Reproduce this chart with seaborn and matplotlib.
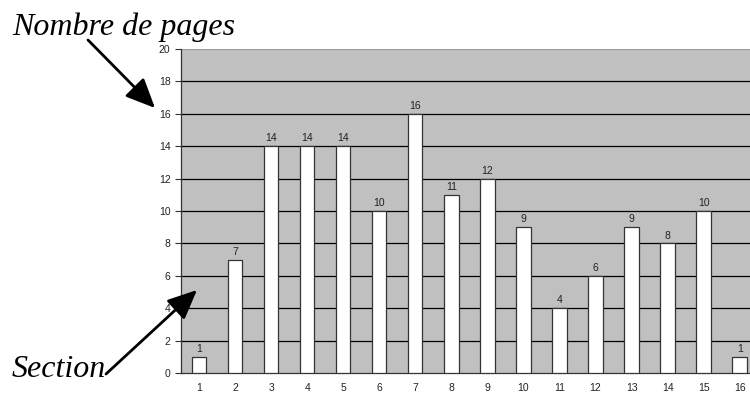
import matplotlib
matplotlib.use("Agg")
import matplotlib.pyplot as plt
import seaborn as sns
import pandas as pd
import numpy as np

sections = list(range(1, 17))
pages = [1, 7, 14, 14, 14, 10, 16, 11, 12, 9, 4, 6, 9, 8, 10, 1]
y_ticks = list(range(0, 21, 2))

df = pd.DataFrame({"section": [str(s) for s in sections], "pages": pages})

sns.set_style("white")
plt.rcParams["font.family"] = ["Liberation Sans", "DejaVu Sans"]

fig = plt.figure(figsize=(7.5, 3.98), dpi=100)
ax = fig.add_axes([0.2413, 0.0628, 0.769, 0.814])
ax.set_facecolor("#c0c0c0")

sns.barplot(data=df, x="section", y="pages", color="white", width=0.4,
            edgecolor="#333333", linewidth=0.9, saturation=1, ax=ax, zorder=3)

ax.set_ylim(0, 20)
ax.set_xlim(-0.5, len(sections) - 0.5)
ax.set_yticks(y_ticks)
ax.set_yticklabels([str(t) for t in y_ticks])
for t in y_ticks[1:-1]:
    ax.axhline(t, color="black", linewidth=0.9, zorder=1)

# tick marks between categories, labels at bar centres
ax.set_xticks(np.arange(-0.5, len(sections), 1.0))
ax.set_xticklabels([])
ax.set_xticks(np.arange(len(sections)), minor=True)
ax.set_xticklabels([str(s) for s in sections], minor=True)
ax.tick_params(axis="x", which="major", length=4, width=0.8, color="#333333", direction="out")
ax.tick_params(axis="x", which="minor", length=0, labelsize=7.5, pad=7, labelcolor="#222222")
ax.tick_params(axis="y", length=4, width=0.8, color="#333333", direction="out",
               labelsize=7.5, labelcolor="#222222", left=True)
ax.set_xlabel("")
ax.set_ylabel("")

for side in ["top", "right"]:
    ax.spines[side].set_visible(False)
ax.spines["left"].set_color("#333333")
ax.spines["left"].set_linewidth(0.9)
ax.spines["bottom"].set_color("#333333")
ax.spines["bottom"].set_linewidth(0.9)
ax.axhline(20, color="#9a9a9a", linewidth=0.8, zorder=1)

ax.bar_label(ax.containers[0], labels=[str(v) for v in pages], padding=2,
             fontsize=7.5, color="#222222")

# annotations
serif = ["Liberation Serif", "DejaVu Serif"]
fig.text(12 / 750, 1 - 35 / 398, "Nombre de pages", fontsize=23, style="italic",
         family=serif, color="black", ha="left", va="baseline")
fig.text(12 / 750, 1 - 377 / 398, "Section", fontsize=23, style="italic",
         family=serif, color="black", ha="left", va="baseline")

arrowprops = dict(arrowstyle="-|>,head_length=1.0,head_width=0.45", color="black",
                  linewidth=2, shrinkA=0, shrinkB=0)
fig.add_artist(matplotlib.patches.FancyArrowPatch(
    (88 / 750, 1 - 40 / 398), (155 / 750, 1 - 108 / 398),
    transform=fig.transFigure, mutation_scale=18, **arrowprops))
fig.add_artist(matplotlib.patches.FancyArrowPatch(
    (106 / 750, 1 - 374 / 398), (197 / 750, 1 - 290 / 398),
    transform=fig.transFigure, mutation_scale=18, **arrowprops))

fig.savefig("out.png", dpi=100)
